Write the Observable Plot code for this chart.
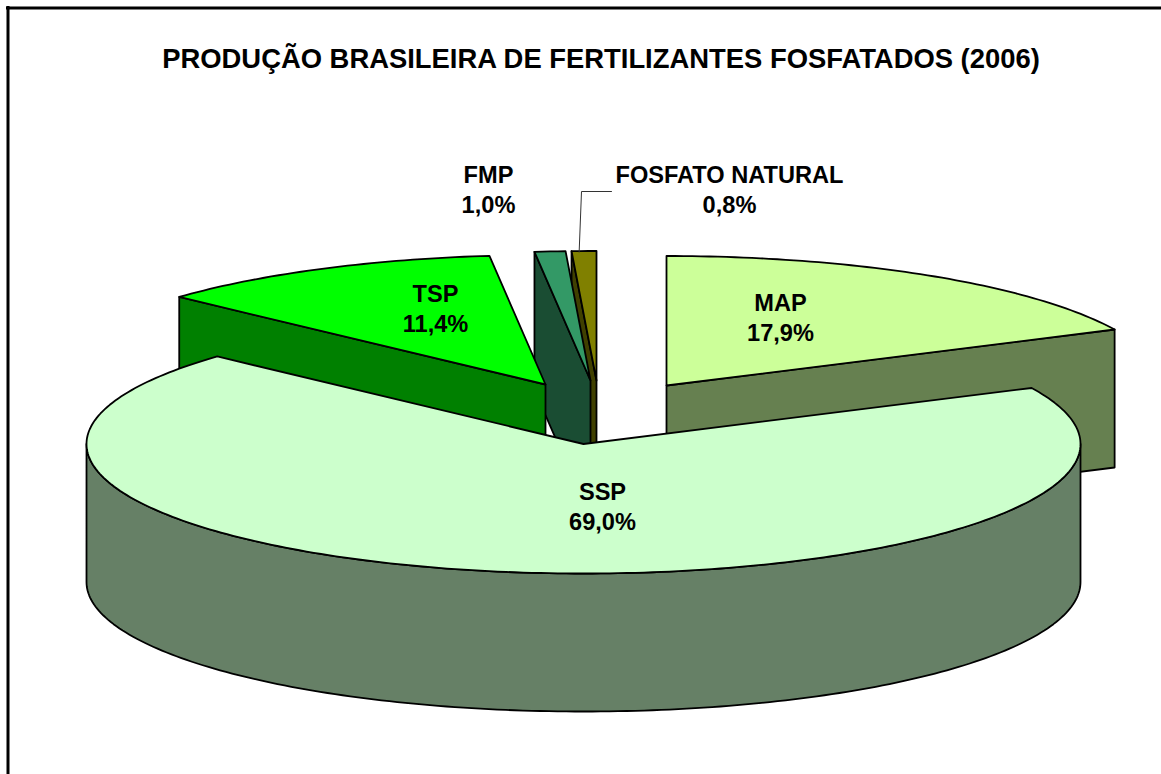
<!DOCTYPE html>
<html><head><meta charset="utf-8">
<script src="https://cdn.jsdelivr.net/npm/d3@7"></script>
<script src="https://cdn.jsdelivr.net/npm/@observablehq/plot@0.6"></script>
<style>html,body{margin:0;padding:0;background:#fff;overflow:hidden}svg{display:block}</style>
</head><body><div id="chart"></div>
<script>
const title = "PRODUÇÃO BRASILEIRA DE FERTILIZANTES FOSFATADOS (2006)";
const categories = ["MAP", "SSP", "TSP", "FMP", "FOSFATO NATURAL"];
const shares = [17.9, 69.0, 11.4, 1.0, 0.8];

// Layout only
const W = 1161, H = 774, RX = 497, RY = 129.5, DEPTH = 138;
const topColors  = ["#CCFF99", "#CCFFCC", "#00FF00", "#339966", "#808000"];
const wallColors = ["#668050", "#668066", "#008000", "#1A4D33", "#404000"];
const centers = [[666, 385], [583, 443.5], [545, 384], [590, 380], [596, 380]];
const labelAt = [[780, 316], [602, 504.5], [435, 306.5], [488, 188], [729, 188]];
const drawOrder = [4, 3, 2, 0, 1];

const total = d3.sum(shares);
let acc = 0;
const slices = shares.map((v, i) => {
  const a0 = acc / total * 360; acc += v;
  return {i, a0, a1: acc / total * 360, cx: centers[i][0], cy: centers[i][1]};
});
const rim = (s, a, dz = 0) => {
  const t = a * Math.PI / 180;
  return [s.cx + RX * Math.sin(t), s.cy - RY * Math.cos(t) + dz];
};
const arc = (s, a0, a1, dz = 0) => {
  const n = Math.max(1, Math.ceil(Math.abs(a1 - a0)));
  return d3.range(n + 1).map(k => rim(s, a0 + (a1 - a0) * k / n, dz));
};

const polys = [];
const add = (pts, fill) => polys.push({pts, fill, id: polys.length});
for (const i of drawOrder) {
  const s = slices[i], apex = [s.cx, s.cy], apexLow = [s.cx, s.cy + DEPTH];
  if (i === 1) {
    // round outer wall of the big slice, front half only
    add([...arc(s, 90, 270), ...arc(s, 270, 90, DEPTH)], wallColors[i]);
  } else if (i === 0) {
    // cut face at the clockwise end of the slice
    const p = rim(s, s.a1), q = rim(s, s.a1, DEPTH);
    add([apex, p, q, apexLow], wallColors[i]);
  } else {
    // cut face at the clockwise start of the slice
    const p = rim(s, s.a0), q = rim(s, s.a0, DEPTH);
    add([apex, p, q, apexLow], wallColors[i]);
  }
  add([apex, ...arc(s, s.a0, s.a1)], topColors[i]);
}
const vertices = polys.flatMap(p => p.pts.map(([x, y]) => ({x, y, id: p.id, fill: p.fill})));

const labels = categories.map((c, i) => ({
  text: `${c}\n${shares[i].toFixed(1).replace(".", ",")}%`,
  x: labelAt[i][0], y: labelAt[i][1]
}));
const leader = slices[4];
const leaderStart = rim(leader, 358);
const leaderPts = [[leaderStart[0], leaderStart[1] + 1], [581, 191], [611, 191]].map(([x, y]) => ({x, y}));

const chart = Plot.plot({
  width: W, height: H,
  margin: 0,
  x: {domain: [0, W], range: [0, W], axis: null},
  y: {domain: [0, H], range: [0, H], axis: null},
  color: {type: "identity"},
  style: {background: "#fff", fontFamily: "'Liberation Sans', Arial, sans-serif"},
  marks: [
    Plot.line(vertices, {x: "x", y: "y", z: "id", fill: "fill", stroke: "#000", strokeWidth: 1.8,
      curve: "linear-closed", strokeLinejoin: "round"}),
    Plot.line(leaderPts, {x: "x", y: "y", stroke: "#333", strokeWidth: 1}),
    Plot.text(labels, {x: "x", y: "y", text: "text", fontSize: 23.6, fontWeight: "bold", lineHeight: 1.29, fill: "#000"}),
    Plot.text([title], {x: () => 600.5, y: () => 59, text: d => d, fontSize: 27.4, fontWeight: "bold", fill: "#000"}),
    Plot.ruleX([7.5], {y1: 6, y2: H, stroke: "#000", strokeWidth: 3}),
    Plot.ruleY([7.5], {x1: 6, x2: W, stroke: "#000", strokeWidth: 3})
  ]
});
document.getElementById("chart").append(chart);
</script></body></html>
